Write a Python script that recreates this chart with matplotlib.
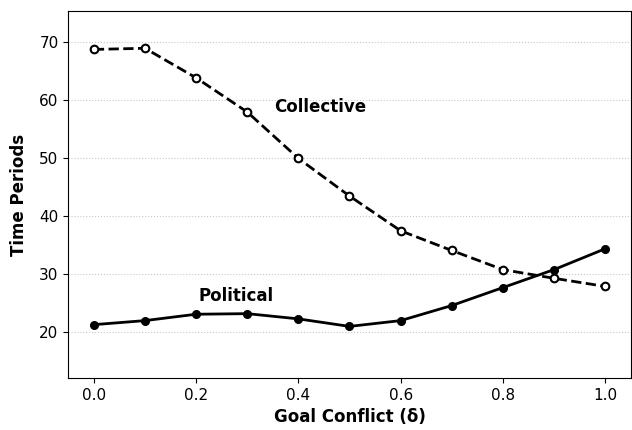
import matplotlib
matplotlib.use('Agg')
import matplotlib.pyplot as plt

# Goal conflict levels
delta = [0.0, 0.1, 0.2, 0.3, 0.4, 0.5, 0.6, 0.7, 0.8, 0.9, 1.0]
collective = [68.7, 68.9, 63.8, 57.9, 49.9, 43.4, 37.4, 34.0, 30.7, 29.2, 27.8]
political = [21.2, 21.9, 23.0, 23.1, 22.2, 20.9, 21.9, 24.5, 27.6, 30.7, 34.3]

fig = plt.figure(figsize=(6.32, 4.30), dpi=100)
ax = fig.add_axes([0.108, 0.121, 0.89, 0.853])

ax.plot(delta, collective, '--', color='black', lw=2,
        marker='o', markersize=5.5, markerfacecolor='white', markeredgewidth=1.5)
ax.plot(delta, political, '-', color='black', lw=2,
        marker='o', markersize=5.5, markerfacecolor='black')

ax.text(0.352, 58.8, 'Collective', fontsize=12, fontweight='bold', va='center')
ax.text(0.204, 26.2, 'Political', fontsize=12, fontweight='bold', va='center')

ax.set_ylim(12, 75.3)
ax.set_xlabel('Goal Conflict (δ)', fontsize=12, fontweight='bold')
ax.set_ylabel('Time Periods', fontsize=12, fontweight='bold', labelpad=8)
ax.tick_params(labelsize=11)
ax.yaxis.grid(True, linestyle=':', color='#c8c8c8', lw=0.8)
ax.set_axisbelow(True)

plt.savefig('out.png', dpi=100)
